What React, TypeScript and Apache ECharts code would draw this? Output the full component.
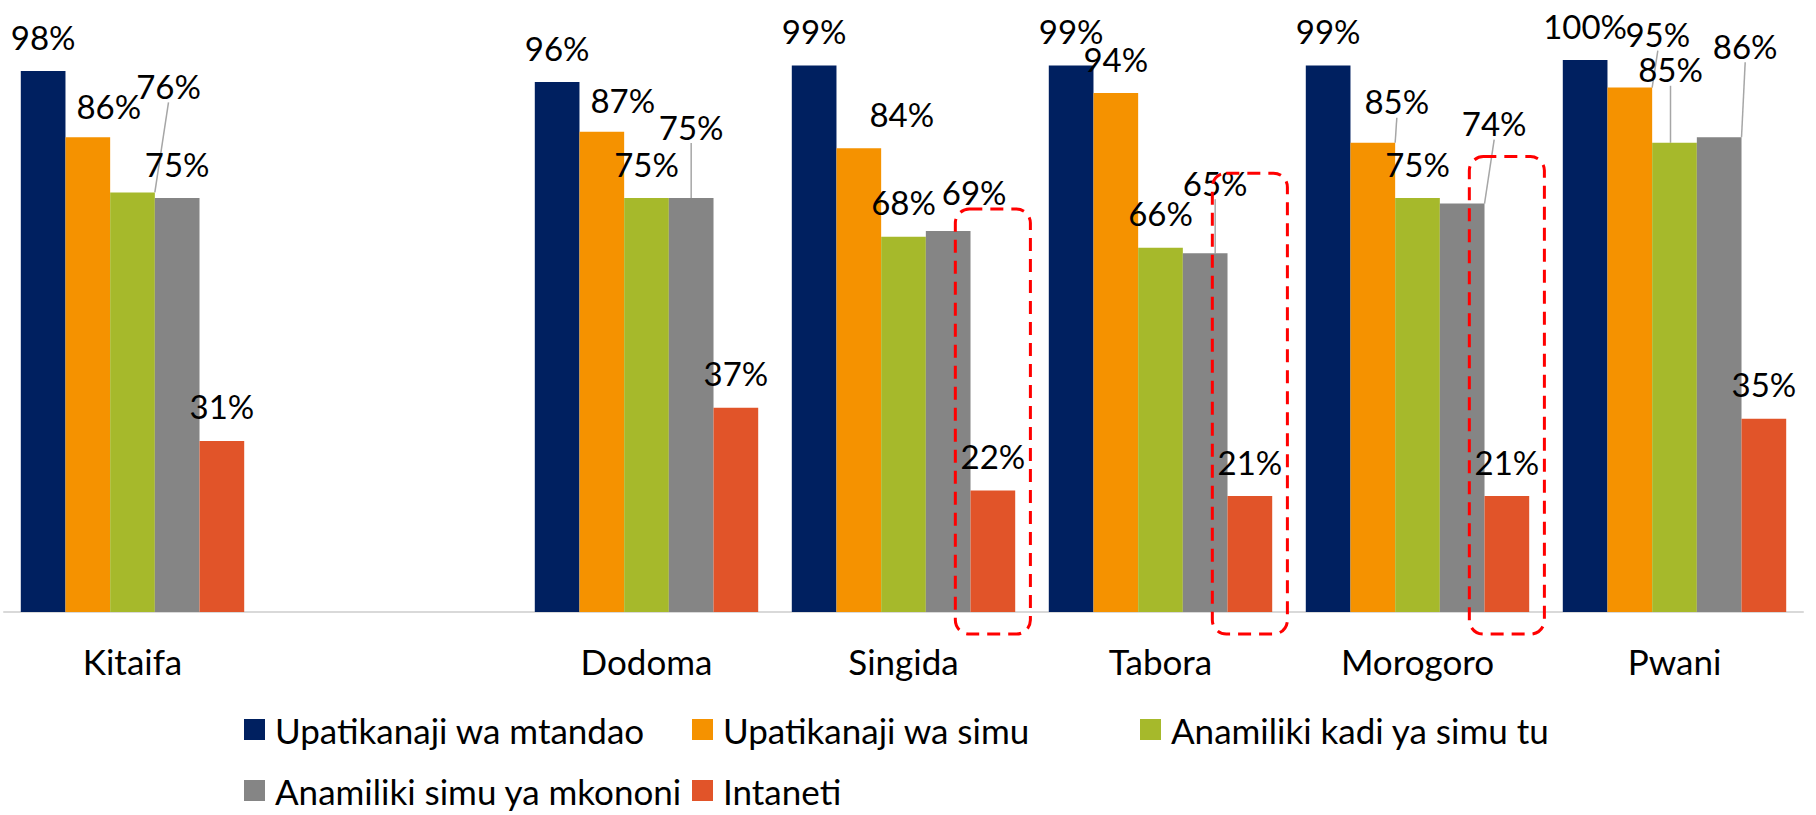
import React, { useEffect, useRef } from "react";
import * as echarts from "echarts";

const categories = ["Kitaifa", "", "Dodoma", "Singida", "Tabora", "Morogoro", "Pwani"];

const seriesNames = [
  "Upatikanaji wa mtandao",
  "Upatikanaji wa simu",
  "Anamiliki kadi ya simu tu",
  "Anamiliki simu ya mkononi",
  "Intaneti",
];

const mtandao = [98, null, 96, 99, 99, 99, 100];
const simu = [86, null, 87, 84, 94, 85, 95];
const kadi = [76, null, 75, 68, 66, 75, 85];
const mkononi = [75, null, 75, 69, 65, 74, 86];
const intaneti = [31, null, 37, 22, 21, 21, 35];

const seriesValues = [mtandao, simu, kadi, mkononi, intaneti];
const colors = ["#002060", "#F59200", "#A6B92B", "#858585", "#E15429"];

// highlighted Intaneti groups: [category index, box top value, box bottom value]
const highlightBoxes = [
  [3, 73, -4],
  [4, 79.5, -4],
  [5, 82.5, -4],
];

// label shifts (px) [dx, dy, leaderLine]
const labelShift: (null | [number, number, boolean])[][] = [
  [null, null, null, null, null, null, null],
  [[21, 3, false], null, [21, 3, false], [43, 0, false], null, [24, -7, true], [28, -19, true]],
  [[36, -72, true], null, null, null, null, null, [-4, -39, true]],
  [null, null, [0, -37, true], [26, -5, false], [10, -36, true], [32, -46, true], [26, -57, true]],
  [null, null, null, null, null, null, null],
];

const FONT = "Lato";
const BAR_CAT_GAP = 0.1307;

export default function App() {
  const ref = useRef<HTMLDivElement>(null);
  useEffect(() => {
    if (!ref.current) return;
    const chart = echarts.init(ref.current, null, { renderer: "svg" });

    const barSeries = seriesValues.map((vals, si) => ({
      type: "bar",
      name: seriesNames[si],
      barGap: "0%",
      barCategoryGap: (BAR_CAT_GAP * 100).toFixed(2) + "%",
      itemStyle: { color: colors[si] },
      data: vals.map((v, di) => {
        const s = labelShift[si][di];
        const item: any = { value: v };
        if (s && s[2]) item.labelLine = { show: true };
        return item;
      }),
      label: {
        show: true,
        position: "top",
        distance: 18,
        formatter: "{c}%",
        fontFamily: FONT,
        fontSize: 33,
        color: "#000",
      },
      labelLine: {
        show: false,
        lineStyle: { color: "#A6A6A6", width: 1.5 },
      },
      labelLayout: (p: any) => {
        const s = labelShift[si][p.dataIndex];
        if (!s) return {};
        return { dx: s[0], dy: s[1] };
      },
    }));

    const boxSeries = {
      type: "custom",
      name: "box",
      clip: false,
      z: 5,
      silent: true,
      data: highlightBoxes,
      renderItem: (params: any, api: any) => {
        const cat = api.value(0);
        const top = api.coord([cat, api.value(1)]);
        const bot = api.coord([cat, api.value(2)]);
        const band = api.size([1, 0])[0];
        const barW = (band * (1 - BAR_CAT_GAP)) / 5;
        const cx = top[0] + 2 * barW;
        const w = barW * 1.68;
        return {
          type: "rect",
          shape: { x: cx - w / 2, y: top[1], width: w, height: bot[1] - top[1], r: 14 },
          style: { fill: "none", stroke: "#FF0000", lineWidth: 3, lineDash: [13, 8] },
        };
      },
    };

    const legendPos = [
      { left: 244, top: 712 },
      { left: 692, top: 712 },
      { left: 1140, top: 712 },
      { left: 244, top: 773 },
      { left: 692, top: 773 },
    ];

    chart.setOption({
      animation: false,
      backgroundColor: "#fff",
      grid: { left: 4, width: 1799, top: 60, bottom: 203, containLabel: false },
      xAxis: {
        type: "category",
        data: categories,
        axisLine: { lineStyle: { color: "#D9D9D9", width: 2 } },
        axisTick: { show: false },
        axisLabel: { fontFamily: FONT, fontSize: 35, color: "#000", margin: 31, interval: 0 },
      },
      yAxis: {
        type: "value",
        min: 0,
        max: 100,
        show: false,
        splitLine: { show: false },
      },
      legend: seriesNames.map((n, i) => ({
        data: [n],
        left: legendPos[i].left,
        top: legendPos[i].top,
        padding: 0,
        itemWidth: 21,
        itemHeight: 21,
        icon: "rect",
        selectedMode: false,
        textStyle: { fontFamily: FONT, fontSize: 35, color: "#000", padding: [0, 0, 0, 5] },
      })),
      series: [...barSeries, boxSeries],
    });
    return () => chart.dispose();
  }, []);
  return (
    <div
      ref={ref}
      style={{ position: "fixed", left: 0, top: 0, width: 1816, height: 815, background: "#fff" }}
    />
  );
}
